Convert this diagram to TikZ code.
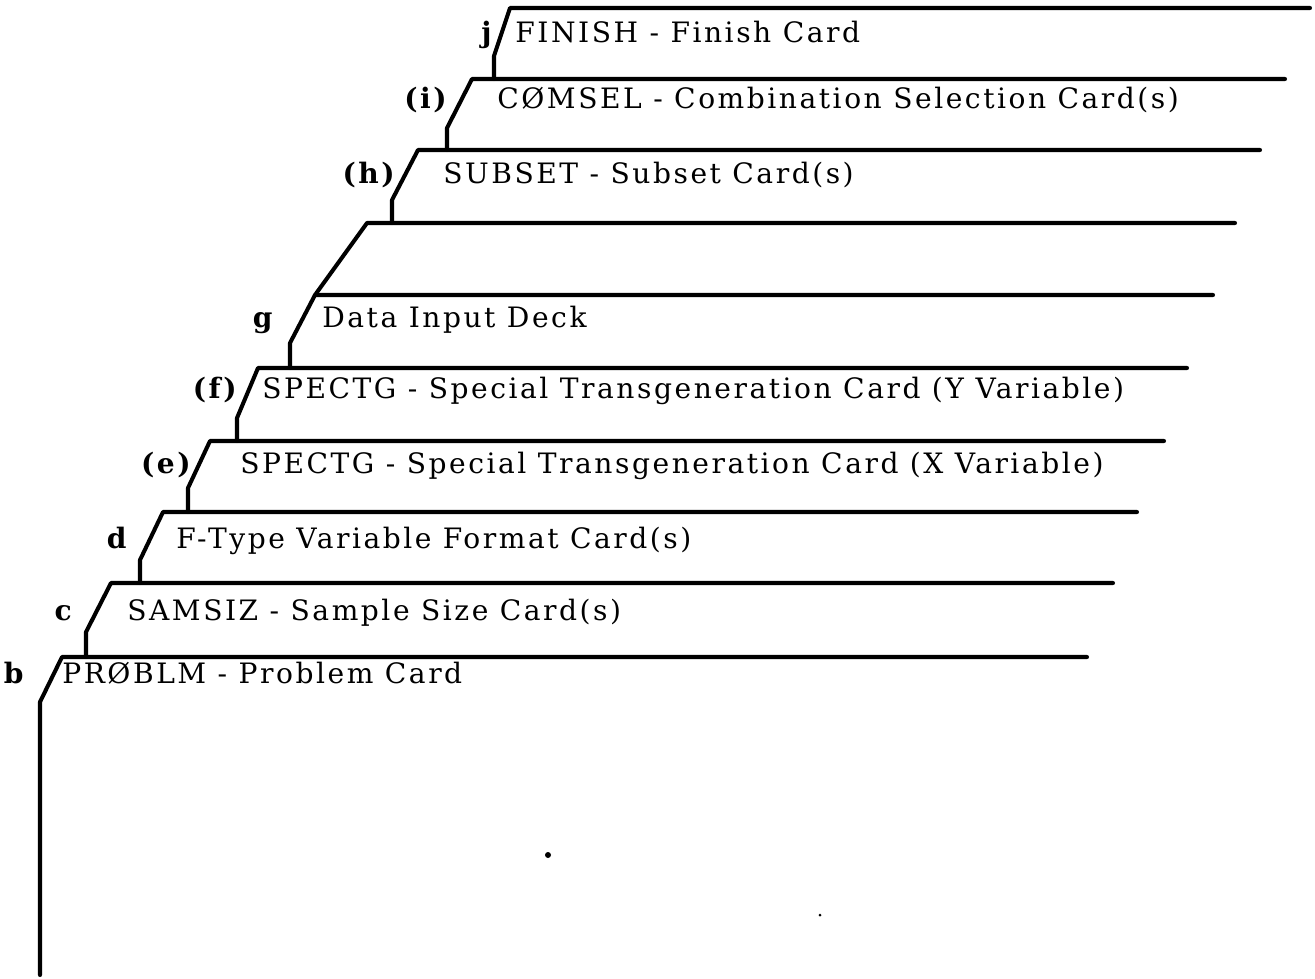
\documentclass[tikz,border=0pt]{standalone}
\usepackage{fontspec}
\setmainfont{DejaVu Serif}[LetterSpace=9]
\begin{document}
\begin{tikzpicture}[x=0.2mm, y=-0.2mm,
  every node/.style={font=\fontsize{16}{18}\selectfont, inner sep=0pt},
  edge/.style={line width=2.3pt, line join=round, line cap=round},
  txt/.style={anchor=base west},
  tag/.style={anchor=base east, font=\fontsize{16}{18}\selectfont\bfseries}]
  \useasboundingbox (0,0) rectangle (1315,978);
  % Cards: name / top / corner x / right end / slant end x / slant end y / bottom
  \foreach \n/\t/\l/\r/\sx/\sy/\b in {
      b/657/62/1087/40/702/975,
      c/583/111/1113/86/632/657,
      d/512/163/1137/140/560/583,
      e/441/210/1164/188/488/512,
      f/368/258/1187/237/418/441,
      g/295/315/1213/290/343/368,
      blank/223/367/1235/315/295/295,
      h/150/418/1260/392/200/223,
      i/79/472/1285/447/128/150,
      j/8/510/1310/494/56/79} {
    \coordinate (\n-r) at (\r,\t);
    \coordinate (\n-c) at (\l,\t);
    \coordinate (\n-s) at (\sx,\sy);
    \coordinate (\n-v) at (\sx,\b);
    \draw[edge] (\n-r) -- (\n-c) -- (\n-s) -- (\n-v);
  }
  % Labels
  \node[tag] (lb) at (24,683) {b};
  \node[tag] (lc) at (72,620) {c};
  \node[tag] (ld) at (127,548) {d};
  \node[tag] (le) at (191,473) {(e)};
  \node[tag] (lf) at (237,398) {(f)};
  \node[tag] (lg) at (273,327) {g};
  \node[tag] (lh) at (395,183) {(h)};
  \node[tag] (li) at (447,108) {(i)};
  \node[tag] (lj) at (492,42) {j};
  % Card titles
  \node[txt] (tb) at (62,683) {PRØBLM - Problem Card};
  \node[txt] (tc) at (127,620) {SAMSIZ - Sample Size Card(s)};
  \node[txt] (td) at (176,548) {F-Type Variable Format Card(s)};
  \node[txt] (te) at (240,473) {SPECTG - Special Transgeneration Card (X Variable)};
  \node[txt] (tf) at (262,398) {SPECTG - Special Transgeneration Card (Y Variable)};
  \node[txt] (tg) at (322,327) {Data Input Deck};
  \node[txt] (th) at (443,183) {SUBSET - Subset Card(s)};
  \node[txt] (ti) at (497,108) {CØMSEL - Combination Selection Card(s)};
  \node[txt] (tj) at (515,42) {FINISH - Finish Card};
  % Specks
  \fill (548,855) circle (3);
  \fill (820,915) circle (1.5);
\end{tikzpicture}
\end{document}
